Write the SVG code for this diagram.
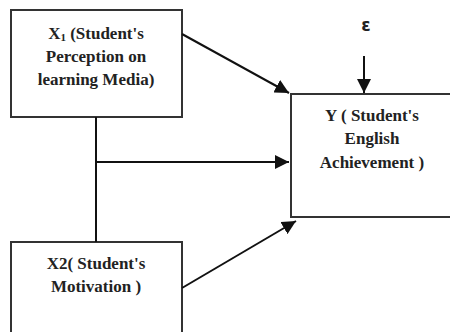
<svg xmlns="http://www.w3.org/2000/svg" width="450" height="332" viewBox="0 0 450 332">
<style>
.box{fill:#fff;stroke:#333;stroke-width:2}
.t{font-family:'Liberation Serif',serif;font-weight:bold;font-size:17px;fill:#222;text-anchor:middle}
.c{stroke:#111;stroke-width:2;fill:none}
</style>
<defs>
<marker id="ah" viewBox="0 0 10 10" refX="10" refY="5" markerWidth="7" markerHeight="7" orient="auto" markerUnits="strokeWidth">
<path d="M0,0 L10,5 L0,10 z" fill="#111"/>
</marker>
</defs>
<rect width="450" height="332" fill="#fff"/>
<g id="x1">
<rect class="box" x="11" y="10" width="171" height="107"/>
<text class="t" x="96" y="39">X<tspan font-size="11" dy="2">1</tspan><tspan dy="-2"> (Student's</tspan></text>
<text class="t" x="96" y="62">Perception on</text>
<text class="t" x="96" y="85">learning Media)</text>
</g>
<g id="x2">
<rect class="box" x="11" y="242" width="171" height="100"/>
<text class="t" x="96" y="269">X2( Student's</text>
<text class="t" x="96" y="292">Motivation )</text>
</g>
<g id="y">
<rect class="box" x="291" y="94" width="170" height="123"/>
<text class="t" x="372" y="121">Y ( Student's</text>
<text class="t" x="372" y="144">English</text>
<text class="t" x="372" y="168">Achievement )</text>
</g>
<g id="eps">
<text x="366" y="31" font-family="'DejaVu Sans',sans-serif" font-weight="bold" font-size="17" fill="#222" text-anchor="middle">ε</text>
</g>
<g id="connectors">
<line class="c" x1="182" y1="34" x2="289" y2="93" marker-end="url(#ah)"/>
<line class="c" x1="96" y1="117" x2="96" y2="242"/>
<line class="c" x1="96" y1="162" x2="289" y2="162" marker-end="url(#ah)"/>
<line class="c" x1="182" y1="288" x2="296" y2="221" marker-end="url(#ah)"/>
<line class="c" x1="364" y1="56" x2="364" y2="93" marker-end="url(#ah)"/>
</g>
</svg>
